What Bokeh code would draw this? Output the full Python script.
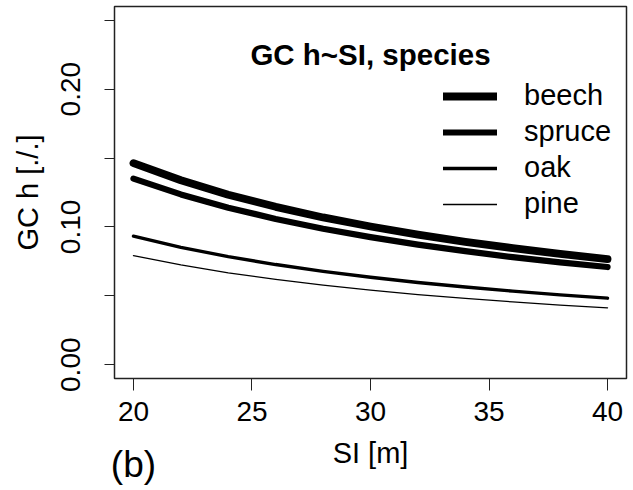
from bokeh.plotting import figure
from bokeh.models import Range1d, FixedTicker, Label, Legend, LegendItem, LinearAxis
from bokeh.embed import file_html
from bokeh.resources import INLINE

# site index [m]
si = [20, 22, 24, 26, 28, 30, 32, 34, 36, 38, 40]

# GC h [./.] by species
beech = [0.1463, 0.1339, 0.1234, 0.1146, 0.1069, 0.1003, 0.0944, 0.0892, 0.0846, 0.0804, 0.0767]
spruce = [0.1351, 0.1236, 0.1140, 0.1058, 0.0987, 0.0926, 0.0872, 0.0824, 0.0781, 0.0743, 0.0709]
oak = [0.0933, 0.0852, 0.0785, 0.0727, 0.0678, 0.0635, 0.0597, 0.0564, 0.0534, 0.0507, 0.0483]
pine = [0.0792, 0.0724, 0.0667, 0.0619, 0.0577, 0.0541, 0.0509, 0.0481, 0.0456, 0.0433, 0.0413]

species = ["beech", "spruce", "oak", "pine"]
widths = [7.8, 6.2, 3.4, 1.3]

x_ticks = [20, 25, 30, 35, 40]
y_ticks = [0.0, 0.05, 0.10, 0.15, 0.20, 0.25]
y_labels = ["0.00", "", "0.10", "", "0.20", ""]

FONT = "Liberation Sans"

p = figure(width=633, height=490, output_backend="svg", toolbar_location=None,
           x_range=Range1d(19.2, 40.8), y_range=Range1d(-0.01, 0.26),
           min_border_left=114, min_border_right=7, min_border_top=6,
           min_border_bottom=112)
p.background_fill_color = "white"
p.border_fill_color = "white"
p.outline_line_color = "#222222"
p.outline_line_width = 1.5
p.xgrid.visible = False
p.ygrid.visible = False

renderers = []
for name, ys, w in zip(species, [beech, spruce, oak, pine], widths):
    r = p.line(si, ys, line_color="black", line_width=w,
               line_cap="round", line_join="round")
    renderers.append((name, r))

# axes
xa = p.xaxis[0]
xa.ticker = FixedTicker(ticks=x_ticks)
xa.minor_tick_line_color = None
xa.axis_line_color = None
xa.major_tick_in = 0
xa.major_tick_out = 12
xa.major_tick_line_color = "#222222"
xa.major_label_text_font = FONT
xa.major_label_text_font_size = "28px"
xa.major_label_text_color = "black"
xa.major_label_standoff = 11
xa.axis_label = "SI [m]"
xa.axis_label_text_font = FONT
xa.axis_label_text_font_size = "29px"
xa.axis_label_text_font_style = "normal"
xa.axis_label_text_color = "black"
xa.axis_label_standoff = 13

ya = p.yaxis[0]
ya.ticker = FixedTicker(ticks=y_ticks)
ya.major_label_overrides = {t: s for t, s in zip(y_ticks, y_labels)}
ya.minor_tick_line_color = None
ya.axis_line_color = None
ya.major_tick_in = 0
ya.major_tick_out = 10
ya.major_tick_line_color = "#222222"
ya.major_label_orientation = "vertical"
ya.major_label_text_font = FONT
ya.major_label_text_font_size = "28px"
ya.major_label_text_color = "black"
ya.major_label_standoff = 24
ya.axis_label = "GC h [./.]"
ya.axis_label_text_font = FONT
ya.axis_label_text_font_size = "29px"
ya.axis_label_text_font_style = "normal"
ya.axis_label_text_color = "black"
ya.axis_label_standoff = 15

# panel tag "(b)" under the first SI tick, pulled up beside the axis title
tag_axis = LinearAxis(ticker=FixedTicker(ticks=[20]),
                      major_label_overrides={20: "(b)"},
                      axis_line_color=None, major_tick_line_color=None,
                      minor_tick_line_color=None, major_tick_in=0,
                      major_tick_out=0, major_label_standoff=-28,
                      major_label_text_font=FONT,
                      major_label_text_font_size="37px",
                      major_label_text_color="black")
p.add_layout(tag_axis, "below")

# panel heading inside the frame
p.add_layout(Label(x=30, y=0.2252, text="GC h~SI, species",
                   text_align="center", text_baseline="alphabetic",
                   text_font=FONT, text_font_size="29.5px",
                   text_font_style="bold", text_color="black"))

legend = Legend(items=[LegendItem(label=n, renderers=[r]) for n, r in renderers],
                location=(329, 158), orientation="vertical",
                glyph_width=54, glyph_height=20, label_standoff=27,
                label_height=20, spacing=3, padding=0, margin=0,
                border_line_color=None, background_fill_alpha=0,
                label_text_font=FONT, label_text_font_size="29px",
                label_text_color="black")
p.add_layout(legend)

open("out.html", "w").write(file_html(p, INLINE))
